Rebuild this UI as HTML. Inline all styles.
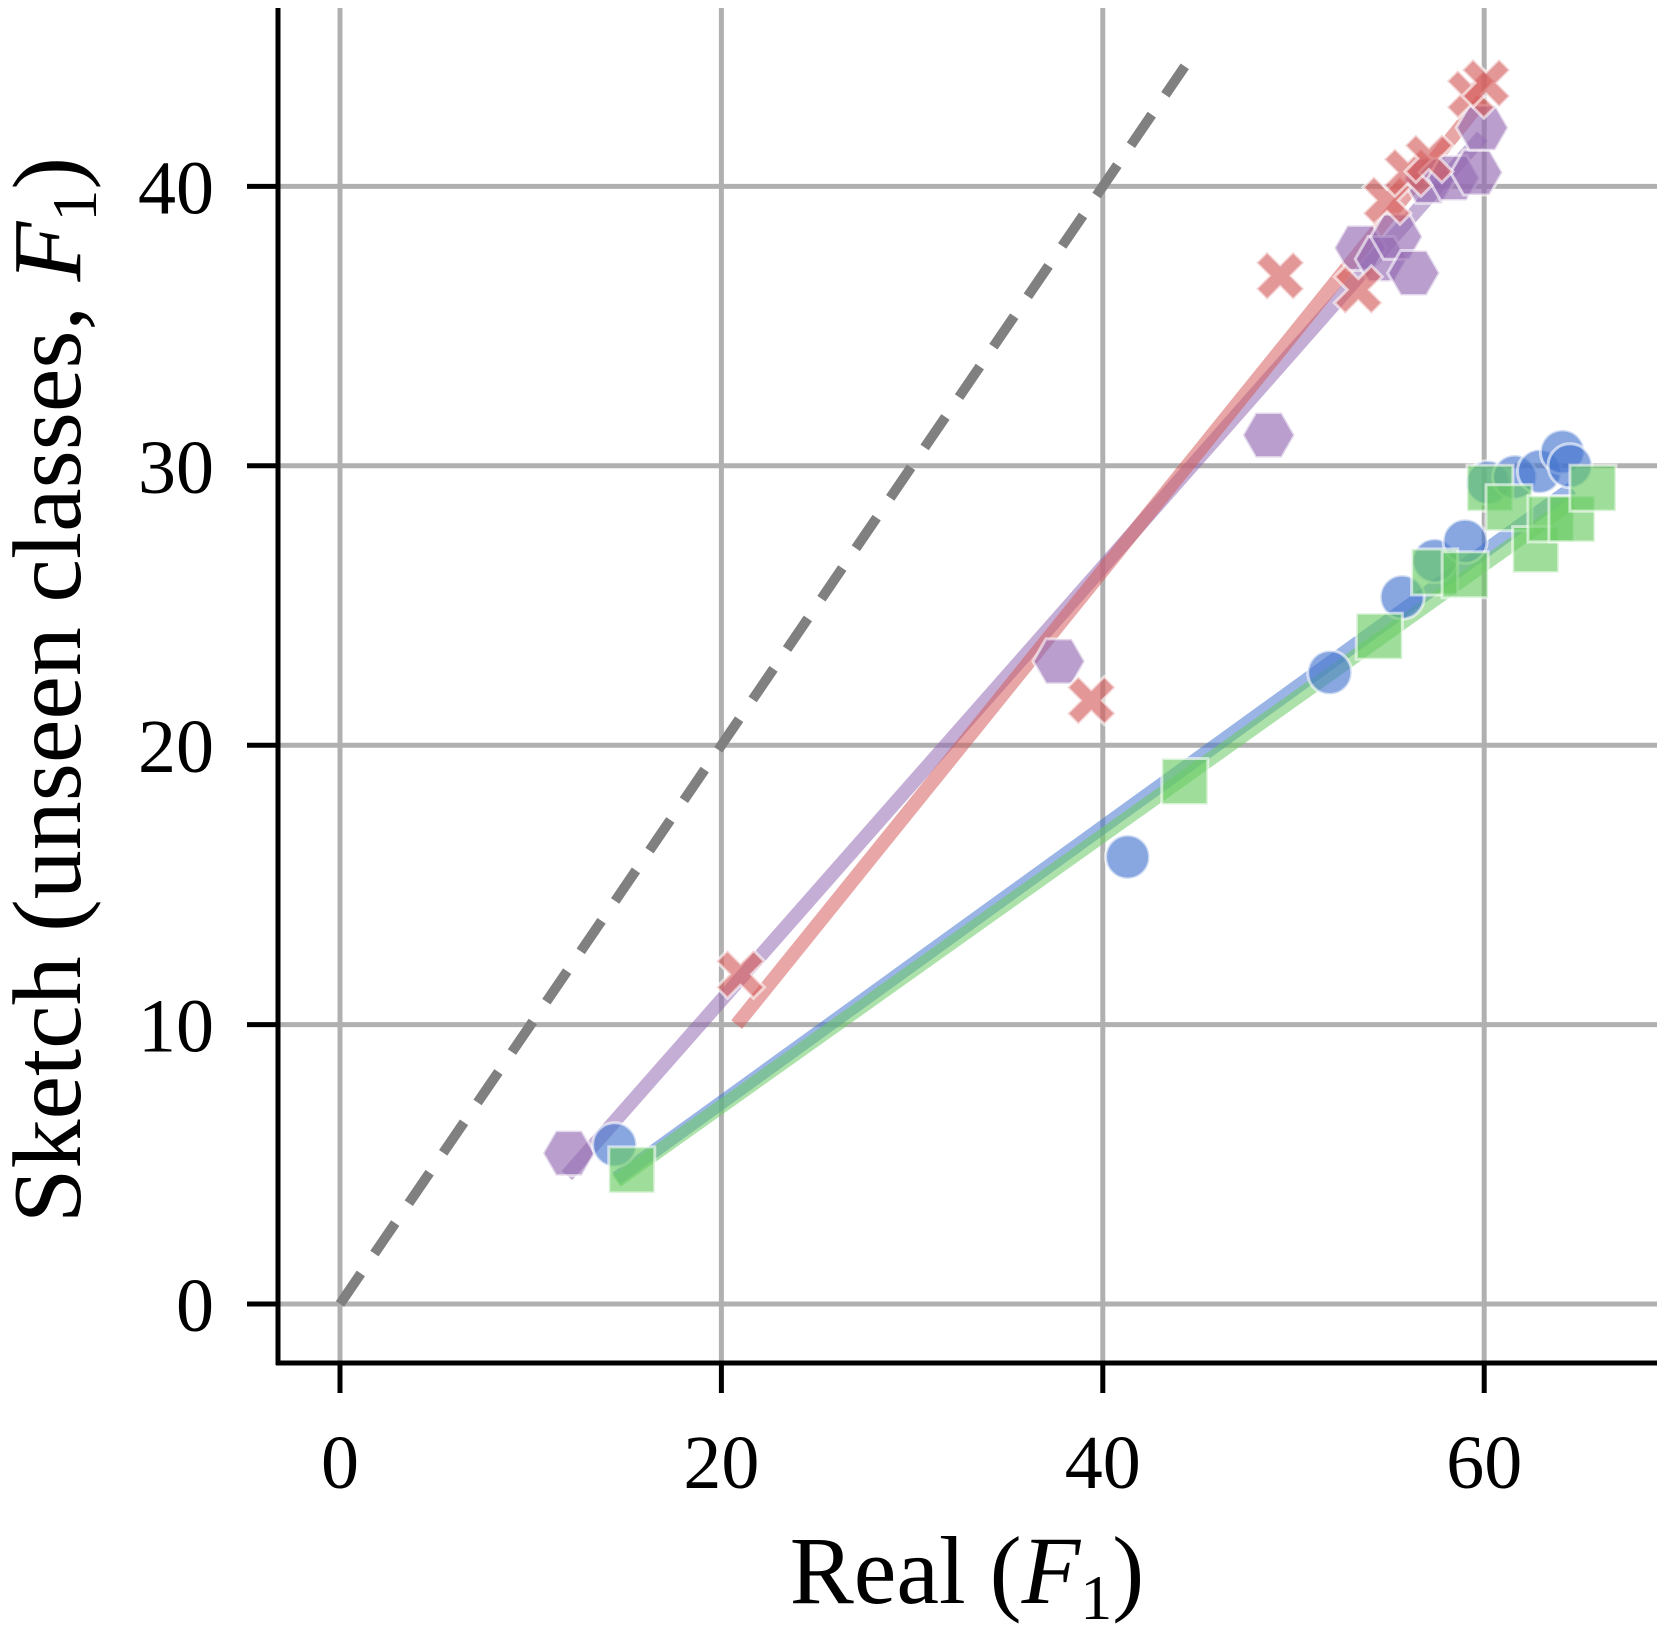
<!DOCTYPE html>
<html><head><meta charset="utf-8"><style>
html,body{margin:0;padding:0;background:#fff;}
svg{display:block;font-family:"Liberation Serif",serif;}
</style></head><body>
<svg id="chart" width="1665" height="1633" viewBox="0 0 1665 1633">
<g id="grid"></g><g id="fits"></g><g id="marks"></g><g id="axes"></g>
</svg>
<script>
const xTicks=[0,20,40,60];
const yTicks=[0,10,20,30,40];
const redX=[21.0,39.4,49.3,53.4,54.9,56.0,57.1,59.3,60.1];
const redY=[11.8,21.6,36.8,36.3,39.5,40.5,41.0,43.3,43.7];
const redFit=[[20.8,10.0],[59.9,43.1]];
const purX=[12.0,37.7,48.7,53.5,54.6,55.4,56.3,57.1,58.4,59.6,59.9];
const purY=[5.4,23.0,31.1,37.8,37.4,38.2,36.9,40.2,40.3,40.5,42.1];
const purFit=[[11.9,4.6],[59.9,41.8]];
const bluX=[14.4,41.3,51.9,55.7,57.4,59.0,60.2,61.6,62.9,64.1,64.5];
const bluY=[5.7,16.0,22.6,25.3,26.6,27.3,29.4,29.6,29.8,30.5,30.0];
const bluFit=[[14.5,4.5],[64.6,29.2]];
const grnX=[15.3,44.3,54.5,57.4,59.0,60.3,61.3,62.7,63.5,64.6,65.7];
const grnY=[4.8,18.7,23.9,26.2,26.1,29.2,28.5,27.0,28.1,28.1,29.2];
const grnFit=[[14.5,4.4],[64.6,28.7]];
const diag=[[0,0],[44.3,44.3]];

const X0=340,XS=19.07,Y0=1304,YS=27.94;
const L=278,B=1363,T=8,R=1657;
const sx=v=>X0+v*XS, sy=v=>Y0-v*YS;
const NS="http://www.w3.org/2000/svg";
function mk(tag,attrs,parent){const e=document.createElementNS(NS,tag);for(const k in attrs)e.setAttribute(k,attrs[k]);parent.appendChild(e);return e;}
const grid=document.getElementById('grid'),fits=document.getElementById('fits'),marks=document.getElementById('marks'),axes=document.getElementById('axes');

xTicks.forEach(t=>{
 const g=mk('line',{x1:sx(t),x2:sx(t),y1:T,y2:B,stroke:'#b0b0b0','stroke-width':5},grid);
 
 
 const tk=mk('line',{x1:sx(t),x2:sx(t),y1:B,y2:B+30,stroke:'#000','stroke-width':5},axes);
 
 
 const tx=mk('text',{x:sx(t),y:1488,'font-size':76,'text-anchor':'middle',fill:'#000'},axes);
 tx.textContent=t;
 
 
});
yTicks.forEach(t=>{
 const g=mk('line',{x1:L,x2:R,y1:sy(t),y2:sy(t),stroke:'#b0b0b0','stroke-width':5},grid);
 
 
 const tk=mk('line',{x1:L-31,x2:L,y1:sy(t),y2:sy(t),stroke:'#000','stroke-width':5},axes);
 
 
 const tx=mk('text',{x:214,y:sy(t)+27,'font-size':76,'text-anchor':'end',fill:'#000'},axes);
 tx.textContent=t;
 
 
});
const sp1=mk('line',{x1:L,x2:L,y1:T,y2:B+2,stroke:'#000','stroke-width':5},axes);


const sp2=mk('line',{x1:L-2,x2:R,y1:B,y2:B,stroke:'#000','stroke-width':5},axes);



const xl=mk('text',{x:967,y:1603,'font-size':96,'text-anchor':'middle',fill:'#000'},axes);
xl.innerHTML='Real (<tspan font-style="italic">F</tspan><tspan font-size="64" dy="16">1</tspan><tspan dy="-16">)</tspan>';


const yl=mk('text',{x:0,y:0,'font-size':98,'text-anchor':'middle',fill:'#000',transform:'translate(80,690) rotate(-90)'},axes);
yl.innerHTML='Sketch (unseen classes, <tspan font-style="italic">F</tspan><tspan font-size="64" dy="16">1</tspan><tspan dy="-16">)</tspan>';



const d=mk('line',{x1:sx(diag[0][0]),y1:sy(diag[0][1]),x2:sx(diag[1][0]),y2:sy(diag[1][1]),stroke:'#808080','stroke-width':10,'stroke-dasharray':'37 24'},fits);



const series=[
 {name:'purple',c:'#956cb4',x:purX,y:purY,fit:purFit,shape:'hex'},
 {name:'red',c:'#d65f5f',x:redX,y:redY,fit:redFit,shape:'x'},
 {name:'blue',c:'#4878d0',x:bluX,y:bluY,fit:bluFit,shape:'circle'},
 {name:'green',c:'#6acc64',x:grnX,y:grnY,fit:grnFit,shape:'square'}
];
series.forEach(s=>{
 const f=mk('line',{x1:sx(s.fit[0][0]),y1:sy(s.fit[0][1]),x2:sx(s.fit[1][0]),y2:sy(s.fit[1][1]),stroke:s.c,'stroke-width':14,opacity:0.55},fits);
 
 
});
series.forEach(s=>{
 s.x.forEach((v,i)=>{
  const cx=sx(v),cy=sy(s.y[i]);let e;
  const st={fill:s.c,'fill-opacity':0.65,stroke:'#fff','stroke-opacity':0.6,'stroke-width':3};
  if(s.shape==='circle'){e=mk('circle',Object.assign({cx:cx,cy:cy,r:22},st),marks);}
  else if(s.shape==='square'){e=mk('rect',Object.assign({x:cx-23,y:cy-23,width:46,height:46},st),marks);}
  else if(s.shape==='hex'){const r=26;let p=[];for(let k=0;k<6;k++){const a=Math.PI/3*k;p.push((cx+r*Math.cos(a))+','+(cy+r*Math.sin(a)));}e=mk('polygon',Object.assign({points:p.join(' ')},st),marks);}
  else {const a=24,w=11;const pts=[[-a,-a+w],[-a+w,-a],[0,-w],[a-w,-a],[a,-a+w],[w,0],[a,a-w],[a-w,a],[0,w],[-a+w,a],[-a,a-w],[-w,0]].map(q=>(cx+q[0])+','+(cy+q[1]));e=mk('polygon',Object.assign({points:pts.join(' ')},st),marks);}
  
  
 });
});
</script>
</body></html>
